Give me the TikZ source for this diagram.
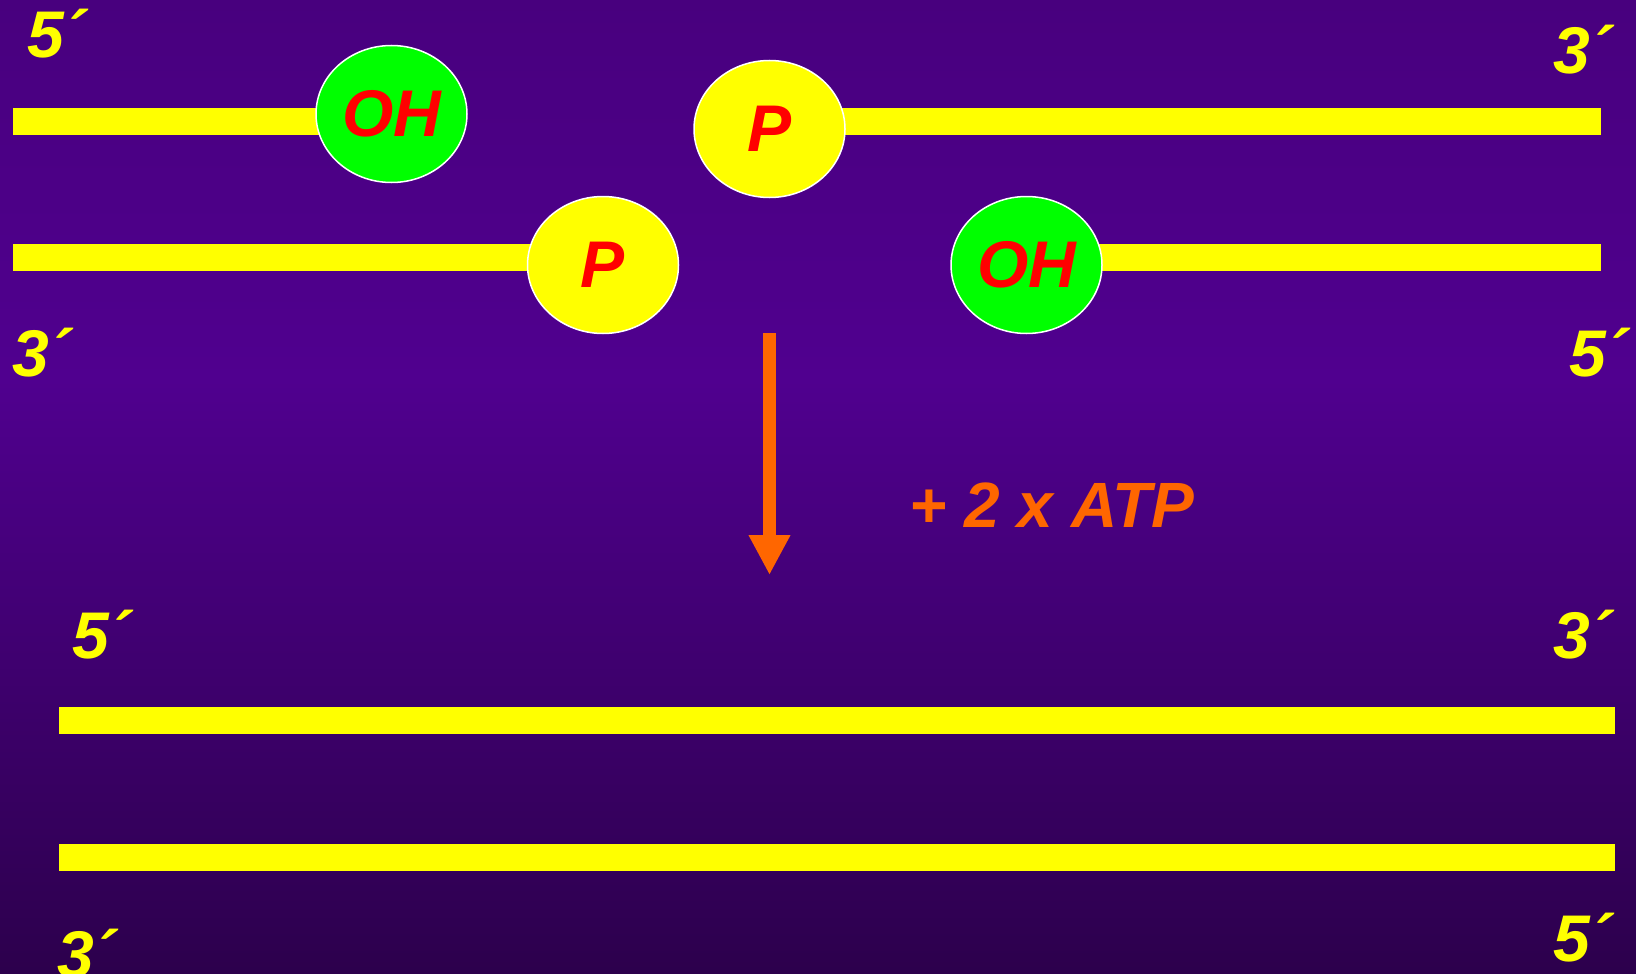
\documentclass[tikz,border=0pt]{standalone}
\usepackage{fontspec}
\setmainfont{Liberation Sans}
\usetikzlibrary{shapes.geometric,arrows.meta}
\pgfdeclarelayer{gradlayer}
\pgfdeclarelayer{strandlayer}
\pgfsetlayers{gradlayer,strandlayer,main}
\definecolor{bgtop}{RGB}{72,0,126}
\definecolor{bgmid}{RGB}{80,0,143}
\definecolor{bgbot}{RGB}{44,0,76}
\definecolor{dnayellow}{RGB}{255,255,0}
\definecolor{ohgreen}{RGB}{0,255,0}
\definecolor{pred}{RGB}{255,0,0}
\definecolor{arroworange}{RGB}{255,102,0}
\tikzset{
  endlabel/.style={anchor=base west, inner sep=0pt, text=dnayellow,
    font=\fontsize{66}{70}\selectfont\bfseries\itshape},
  group/.style={shape=ellipse, minimum width=151pt, minimum height=137pt,
    inner sep=0pt, draw=white, line width=1.5pt, text=pred,
    font=\fontsize{66}{70}\selectfont\bfseries\itshape},
  ohgroup/.style={group, fill=ohgreen},
  pgroup/.style={group, fill=dnayellow},
  strand/.style={draw=dnayellow, line width=27pt, line cap=butt},
  reaction/.style={draw=arroworange, line width=13pt,
    -{Triangle[length=40pt,width=39pt]}},
  atplabel/.style={anchor=base west, inner sep=0pt, text=arroworange,
    font=\fontsize{64}{68}\selectfont\bfseries\itshape}
}
\begin{document}
\begin{tikzpicture}[x=1pt,y=-1pt]
\useasboundingbox (0,0) rectangle (1636,974);
\clip (0,0) rectangle (1636,974);
\begin{pgfonlayer}{gradlayer}
  \shade[top color=bgtop, bottom color=bgmid] (0,-1) rectangle (1636,380);
  \shade[top color=bgmid, bottom color=bgbot] (0,379) rectangle (1636,975);
\end{pgfonlayer}

% end groups
\node[ohgroup] (OH1) at (391.5,114) {OH};
\node[pgroup]  (P1)  at (769.5,129) {P};
\node[pgroup]  (P2)  at (603,265)   {P};
\node[ohgroup] (OH2) at (1026.5,265) {OH};

% strand end coordinates
\coordinate (tl) at (13,121.5);
\coordinate (tr) at (1601,121.5);
\coordinate (ll) at (13,257.5);
\coordinate (lr) at (1601,257.5);
\coordinate (b1l) at (59,720.5);
\coordinate (b1r) at (1615,720.5);
\coordinate (b2l) at (59,857.5);
\coordinate (b2r) at (1615,857.5);

\begin{pgfonlayer}{strandlayer}
  \draw[strand] (tl) -- (OH1.center |- tl);
  \draw[strand] (P1.center |- tr) -- (tr);
  \draw[strand] (ll) -- (P2.center |- ll);
  \draw[strand] (OH2.center |- lr) -- (lr);
\end{pgfonlayer}
\draw[strand] (b1l) -- (b1r);
\draw[strand] (b2l) -- (b2r);

% reaction arrow
\coordinate (a1) at (769.5,333);
\coordinate (a2) at (769.5,575);
\draw[reaction] (a1) -- (a2);
\node[atplabel] (atp) at (909,527) {+ 2 x ATP};

% end labels
\node[endlabel] (l5a) at (27,58) {5´};
\node[endlabel] (l3a) at (1553,74) {3´};
\node[endlabel] (l3b) at (12,376) {3´};
\node[endlabel] (l5b) at (1569,376) {5´};
\node[endlabel] (l5c) at (72,658) {5´};
\node[endlabel] (l3c) at (1553,658) {3´};
\node[endlabel] (l3d) at (57,977) {3´};
\node[endlabel] (l5d) at (1553,961) {5´};
\end{tikzpicture}
\end{document}
